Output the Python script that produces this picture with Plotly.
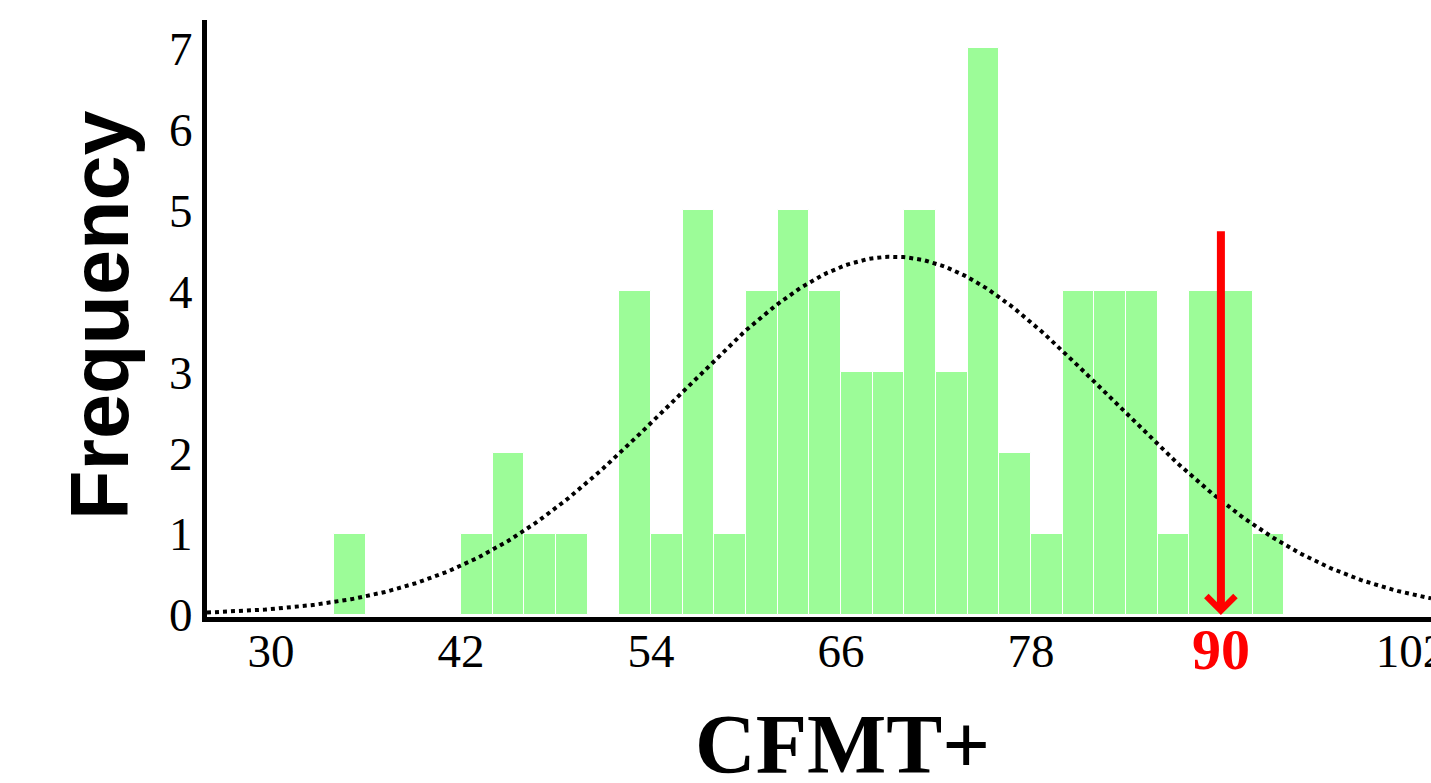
import numpy as np
import plotly.graph_objects as go

# ---- data ----
bin_left = [34, 42, 44, 46, 48, 52, 54, 56, 58, 60, 62, 64, 66, 68, 70, 72, 74, 76, 78, 80, 82, 84, 86, 88, 90, 92]
counts   = [1,  1,  2,  1,  1,  4,  1,  5,  1,  4,  5,  4,  3,  3,  5,  3,  7,  2,  1,  4,  4,  4,  1,  4,  4,  1]
bin_width = 2
fit_mean = 69.3
fit_sd = 13.7
x_tick_values = [30, 42, 54, 66, 78, 90, 102]
y_tick_values = [0, 1, 2, 3, 4, 5, 6, 7]
highlight_value = 90
arrow_top = 4.76

x_range = [25.96, 103.27]
y_range = [-0.025, 7.35]

centers = [b + bin_width / 2 for b in bin_left]
n_total = sum(counts)
xc = np.linspace(x_range[0], x_range[1], 400)
yc = n_total * bin_width / (fit_sd * np.sqrt(2 * np.pi)) * np.exp(-((xc - fit_mean) ** 2) / (2 * fit_sd ** 2))

W, H = 1431, 783
l, r, t, b = 207, 0, 20, H - 617
pw, ph = W - l - r, H - t - b

def px_x(px):
    return (px - l) / pw

def px_y(py):
    return (H - b - py) / ph

fig = go.Figure()
fig.add_trace(go.Bar(
    x=centers, y=counts, width=bin_width,
    marker=dict(color="#9cfc98", line=dict(color="white", width=1)),
    hoverinfo="skip",
))
fig.add_trace(go.Scatter(
    x=xc, y=yc, mode="lines",
    line=dict(color="black", width=4, dash="dot"),
    hoverinfo="skip",
))

tick_text = [str(v) if v != highlight_value else "" for v in x_tick_values]

fig.update_layout(
    template="none",
    width=W, height=H,
    margin=dict(l=l, r=r, t=t, b=b, autoexpand=False),
    paper_bgcolor="white", plot_bgcolor="white",
    showlegend=False,
    bargap=0,
    xaxis=dict(
        range=x_range, tickvals=x_tick_values, ticktext=tick_text,
        showgrid=False, zeroline=False, showline=True, linecolor="black", linewidth=5,
        ticks="", layer="below traces", automargin=False, ticklabeloverflow="allow",
        ticklabelstandoff=-11,
        tickfont=dict(family="Liberation Serif", size=47, color="black"),
    ),
    yaxis=dict(
        range=y_range, tickvals=y_tick_values,
        showgrid=False, zeroline=False, showline=True, linecolor="black", linewidth=5,
        ticks="", automargin=False,
        tickfont=dict(family="Liberation Serif", size=47, color="black"),
    ),
    annotations=[
        dict(x=highlight_value, y=0, xref="x", yref="y", ax=highlight_value, ay=arrow_top,
             axref="x", ayref="y", showarrow=True, arrowhead=4, arrowwidth=8, arrowsize=0.7,
             arrowcolor="#ff0000", text=""),
        dict(x=highlight_value, y=0, xref="x", yref="y", yshift=-35, text="<b>90</b>", showarrow=False,
             font=dict(family="Liberation Serif", size=58, color="#ff0000"), yanchor="middle"),
        dict(x=px_x(100), y=px_y(315), xref="paper", yref="paper",
             text="<b>Frequency</b>", showarrow=False, textangle=-90,
             xanchor="center", yanchor="middle",
             font=dict(family="Liberation Sans", size=81, color="black")),
        dict(x=px_x(842), y=px_y(744), xref="paper", yref="paper",
             text="<b>CFMT+</b>", showarrow=False, xanchor="center", yanchor="middle",
             font=dict(family="Liberation Serif", size=84, color="black")),
    ],
)

fig.write_html(
    "out.html",
    config={"displayModeBar": False},
    post_script="document.body.style.margin='0';document.documentElement.style.overflow='hidden';",
)
